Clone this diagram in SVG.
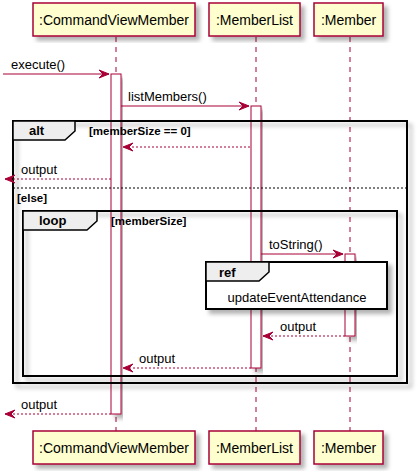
<svg xmlns="http://www.w3.org/2000/svg" width="418" height="474" viewBox="0 0 418 474">
<defs>
<filter id="sh" x="-10%" y="-10%" width="130%" height="130%">
<feDropShadow dx="4" dy="4" stdDeviation="2" flood-color="#000" flood-opacity="0.3"/>
</filter>
<style>
text{font-family:"Liberation Sans",Arial,sans-serif;fill:#000}
.pbox{fill:#FEFECE;stroke:#A80036;stroke-width:1.5;filter:url(#sh)}
.pt{font-size:14px}
.life{stroke:#A80036;stroke-width:1;stroke-dasharray:5,5}
.act{fill:#FFFFFF;stroke:#A80036;stroke-width:1;filter:url(#sh)}
.msg{stroke:#A80036;stroke-width:1;fill:none}
.ret{stroke:#A80036;stroke-width:1;fill:none;stroke-dasharray:2,2}
.head{fill:#A80036;stroke:#A80036}
.ml{font-size:13px}
.frame{fill:none;stroke:#000;stroke-width:2;filter:url(#sh)}
.tab{fill:#EEEEEE;stroke:#000;stroke-width:1.5}
.fk{font-size:13px;font-weight:bold}
.fc{font-size:11.5px;font-weight:bold}
</style>
</defs>

<g id="lifelines">
<line class="life" x1="116" y1="37" x2="116" y2="431"/>
<line class="life" x1="256" y1="37" x2="256" y2="431"/>
<line class="life" x1="350" y1="37" x2="350" y2="431"/>
</g>

<g id="CommandViewMember">
<rect class="pbox" x="33" y="3" width="162" height="33"/>
<text class="pt" x="114" y="25" text-anchor="middle">:CommandViewMember</text>
<rect class="pbox" x="33" y="431" width="162" height="33"/>
<text class="pt" x="114" y="453" text-anchor="middle">:CommandViewMember</text>
</g>
<g id="MemberList">
<rect class="pbox" x="209" y="3" width="91" height="33"/>
<text class="pt" x="254.5" y="25" text-anchor="middle">:MemberList</text>
<rect class="pbox" x="209" y="431" width="91" height="33"/>
<text class="pt" x="254.5" y="453" text-anchor="middle">:MemberList</text>
</g>
<g id="Member">
<rect class="pbox" x="314" y="3" width="69" height="33"/>
<text class="pt" x="348.5" y="25" text-anchor="middle">:Member</text>
<rect class="pbox" x="314" y="431" width="69" height="33"/>
<text class="pt" x="348.5" y="453" text-anchor="middle">:Member</text>
</g>

<g id="activations">
<rect class="act" x="111" y="74" width="10" height="340"/>
<rect class="act" x="251" y="106" width="10" height="262"/>
<rect class="act" x="345" y="254" width="10" height="82"/>
</g>

<g id="alt">
<rect class="frame" x="13" y="121" width="394" height="262"/>
<path class="tab" d="M13,121 L75,121 L75,131 L65,140 L13,140 Z"/>
<text class="fk" x="29" y="135">alt</text>
<text class="fc" x="89" y="135">[memberSize == 0]</text>
<line x1="13" y1="188" x2="407" y2="188" stroke="#000" stroke-width="1" stroke-dasharray="2,2"/>
<text class="fc" x="17" y="202">[else]</text>
</g>

<g id="loop">
<rect class="frame" x="23" y="211" width="374" height="165"/>
<path class="tab" d="M23,211 L97,211 L97,221 L87,230 L23,230 Z"/>
<text class="fk" x="39" y="225">loop</text>
<text class="fc" x="111" y="225">[memberSize]</text>
</g>

<g id="ref">
<rect class="frame" x="206" y="262" width="181" height="47" style="fill:#FFFFFF"/>
<path class="tab" d="M206,262 L269,262 L269,272 L259,281 L206,281 Z"/>
<text class="fk" x="219" y="277">ref</text>
<text class="ml" x="297" y="302" text-anchor="middle">updateEventAttendance</text>
</g>

<g id="connectors">
<line class="msg" x1="3" y1="74" x2="109" y2="74"/>
<polygon class="head" points="99,70 109,74 99,78 103,74"/>
<text class="ml" x="11" y="69">execute()</text>

<line class="msg" x1="121" y1="106" x2="249" y2="106"/>
<polygon class="head" points="239,102 249,106 239,110 243,106"/>
<text class="ml" x="128" y="101">listMembers()</text>

<line class="ret" x1="250" y1="147" x2="123" y2="147"/>
<polygon class="head" points="133,143 123,147 133,151 129,147"/>

<line class="ret" x1="111" y1="179" x2="5" y2="179"/>
<polygon class="head" points="15,175 5,179 15,183 11,179"/>
<text class="ml" x="21" y="174">output</text>

<line class="msg" x1="261" y1="254" x2="343" y2="254"/>
<polygon class="head" points="333,250 343,254 333,258 337,254"/>
<text class="ml" x="269" y="249">toString()</text>

<line class="ret" x1="345" y1="336" x2="263" y2="336"/>
<polygon class="head" points="273,332 263,336 273,340 269,336"/>
<text class="ml" x="280" y="331">output</text>

<line class="ret" x1="251" y1="368" x2="123" y2="368"/>
<polygon class="head" points="133,364 123,368 133,372 129,368"/>
<text class="ml" x="139" y="363">output</text>

<line class="ret" x1="111" y1="414" x2="5" y2="414"/>
<polygon class="head" points="15,410 5,414 15,418 11,414"/>
<text class="ml" x="21" y="409">output</text>
</g>
</svg>
